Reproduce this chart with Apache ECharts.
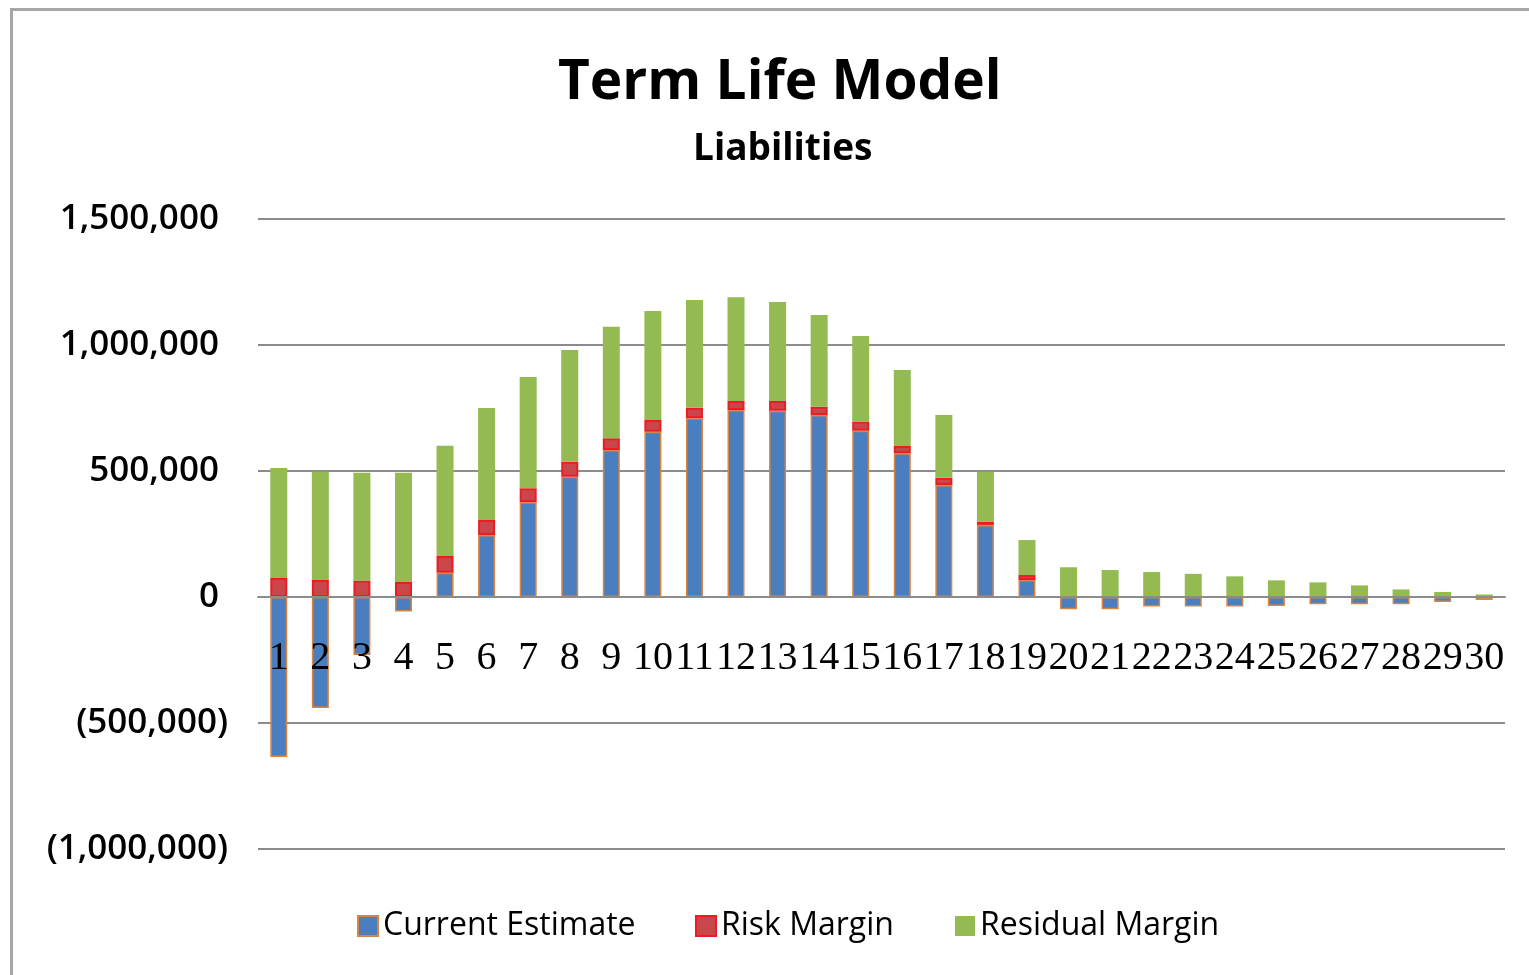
<!DOCTYPE html>
<html>
<head>
<meta charset="utf-8">
<script src="https://cdn.jsdelivr.net/npm/echarts@6/dist/echarts.min.js"></script>
<style>
html,body{margin:0;padding:0;background:#fff;}
#chart{width:1529px;height:975px;}
</style>
</head>
<body>
<div id="chart"></div>
<script>
const categories = ['1','2','3','4','5','6','7','8','9','10','11','12','13','14','15','16','17','18','19','20','21','22','23','24','25','26','27','28','29','30'];
const currentEstimate = [-635000,-440000,-230000,-58000,96000,246000,376000,477000,583000,656000,709000,742000,739000,722000,660000,570000,444000,286000,67000,-49000,-49000,-38000,-38000,-38000,-36000,-29000,-29000,-29000,-20000,-12000];
const riskMargin = [75000,67000,65000,60000,67000,60000,56000,60000,47000,46000,42000,36000,39000,33000,36000,29000,29000,13000,20000,4000,4000,4000,3000,3000,3000,2000,2000,2000,2000,1000];
const residualMargin = [437000,430000,428000,433000,437000,444000,441000,443000,442000,433000,428000,411000,393000,364000,340000,302000,249000,198000,139000,114000,103000,95000,89000,79000,63000,56000,44000,28000,18000,9000];
const yTicks = [-1000000,-500000,0,500000,1000000,1500000];

const chart = echarts.init(document.getElementById('chart'), null, {renderer:'canvas'});

function fmt(v){
  const s = Math.abs(v).toLocaleString('en-US');
  return v < 0 ? '(' + s + ')' : s + ' ';
}

const legendText = {fontFamily:'Open Sans', fontSize:32, color:'#000'};

chart.setOption({
  animation:false,
  backgroundColor:'#fff',
  graphic:[{
    type:'rect', left:10, top:8, z:-10,
    shape:{width:1560, height:1000},
    style:{fill:'#fff', stroke:'#a6a6a6', lineWidth:3}
  }],
  title:[{
    text:'Term Life Model',
    left:553, top:51,
    textStyle:{fontFamily:'Open Sans', fontWeight:'bold', fontSize:55, color:'#000'}
  },{
    text:'Liabilities',
    left:688, top:126,
    textStyle:{fontFamily:'Open Sans', fontWeight:'bold', fontSize:37, color:'#000'}
  }],
  legend:[{
    data:['Current Estimate'], left:352, top:905, itemWidth:20, itemHeight:20, itemGap:8,
    textStyle:legendText, icon:'rect'
  },{
    data:['Risk Margin'], left:690, top:905, itemWidth:20, itemHeight:20,
    textStyle:legendText, icon:'rect'
  },{
    data:['Residual Margin'], left:950, top:905, itemWidth:20, itemHeight:20,
    textStyle:legendText, icon:'rect'
  }],
  grid:{left:258, right:24, top:219, bottom:126, containLabel:false},
  xAxis:{
    type:'category',
    data:categories,
    z:10,
    position:'bottom',
    offset:-252,
    axisLine:{onZero:false, lineStyle:{color:'#8c8c8c', width:2}},
    axisTick:{show:false},
    axisLabel:{interval:0, margin:41, fontFamily:'Liberation Serif', fontSize:40, color:'#000', hideOverlap:false}
  },
  yAxis:{
    type:'value',
    min:-1000000, max:1500000, interval:500000,
    axisLine:{show:false},
    axisTick:{show:false},
    splitLine:{lineStyle:{color:'#8c8c8c', width:2}},
    axisLabel:{
      margin:30, fontFamily:'Open Sans', fontWeight:600, fontSize:35, color:'#000',
      formatter:function(v){ return yTicks.indexOf(v) >= 0 ? fmt(v) : ''; }
    }
  },
  series:[{
    name:'Current Estimate', type:'bar', stack:'total', barWidth:17,
    data:currentEstimate,
    itemStyle:{color:'#4a7ebf', borderColor:'#d9843f', borderWidth:1.5}
  },{
    name:'Risk Margin', type:'bar', stack:'total', barWidth:17,
    data:riskMargin,
    itemStyle:{color:'#c9474a', borderColor:'#ec1c24', borderWidth:2}
  },{
    name:'Residual Margin', type:'bar', stack:'total', barWidth:17,
    data:residualMargin,
    itemStyle:{color:'#93bb52'}
  }]
});
</script>
</body>
</html>
